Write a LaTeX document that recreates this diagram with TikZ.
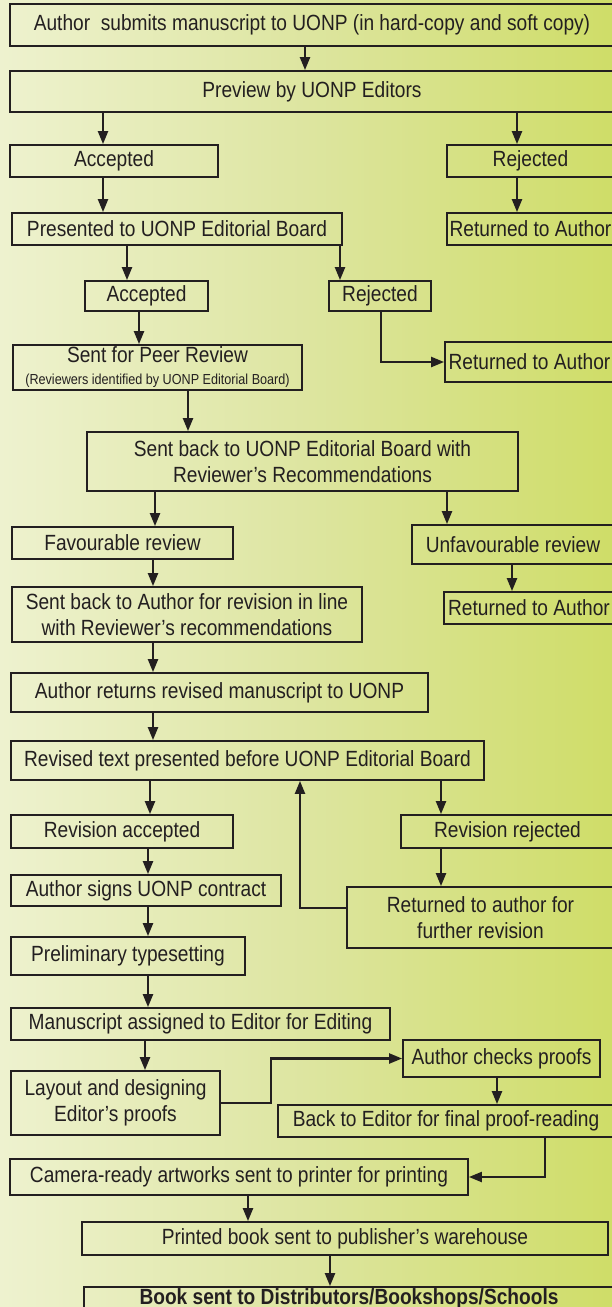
\documentclass[tikz,border=0pt]{standalone}
\usepackage{fontspec}
\setmainfont{Liberation Sans}[FakeStretch=0.87]
\usetikzlibrary{arrows.meta}

\definecolor{ink}{HTML}{231F20}
\definecolor{bgA}{HTML}{FFFFFF}
\definecolor{bgB}{HTML}{EEF2CF}
\definecolor{bgC}{HTML}{DDE5A0}
\definecolor{bgD}{HTML}{C1D530}
\pgfdeclarehorizontalshading{bgshade}{100bp}{color(0bp)=(bgA); color(2bp)=(bgA); color(25bp)=(bgB); color(50bp)=(bgC); color(100bp)=(bgD)}

\tikzset{
  box/.style={shape=rectangle, draw=ink, line width=1.8pt, inner sep=0pt, align=center,
    text=ink, font=\fontsize{22}{26}\selectfont},
  arr/.style={draw=ink, line width=2.2pt, -{Triangle[length=13pt,width=10pt]}},
}

\begin{document}
\begin{tikzpicture}[x=1pt,y=-1pt]

%page and background
\useasboundingbox (0,0) rectangle (612,1307);
\clip (0,0) rectangle (612,1307);
\shade [shading=bgshade] (0,0) rectangle (612,1307);

%submission and preview
\node [box, minimum width=604pt, minimum height=42pt] at (312,25) (submit) {Author\ \ submits manuscript to UONP (in hard-copy and soft copy)};
\node [box, minimum width=604pt, minimum height=41pt] at (312,91.5) (preview) {Preview by UONP Editors};

%first decision
\node [box, minimum width=208pt, minimum height=32pt] at (114,161) (acc1) {Accepted};
\node [box, minimum width=167pt, minimum height=32pt] at (530.5,161) (rej1) {Rejected};
\node [box, minimum width=330pt, minimum height=32pt] at (177,229) (board1) {Presented to UONP Editorial Board};
\node [box, minimum width=167pt, minimum height=32pt] at (530.5,229) (ret1) {Returned to Author};

%editorial board decision
\node [box, minimum width=123pt, minimum height=30pt] at (146.5,296) (acc2) {Accepted};
\node [box, minimum width=102pt, minimum height=30pt] at (380,296) (rej2) {Rejected};
\node [box, minimum width=169pt, minimum height=40pt] at (529.5,362) (ret2) {Returned to Author};
\node [box, minimum width=289pt, minimum height=45pt] at (157.5,367.5) (peer) {Sent for Peer Review\\[-4pt]{\fontsize{14.5}{16}\selectfont (Reviewers identified by UONP Editorial Board)}};

%review outcome
\node [box, minimum width=431pt, minimum height=59pt] at (302.5,461.5) (back1) {Sent back to UONP Editorial Board with\\Reviewer's Recommendations};
\node [box, minimum width=221pt, minimum height=32pt] at (122.5,543) (fav) {Favourable review};
\node [box, minimum width=202pt, minimum height=39pt] at (513,544.5) (unfav) {Unfavourable review};
\node [box, minimum width=350pt, minimum height=55pt] at (187,614.5) (revline) {Sent back to Author for revision in line\\with Reviewer's recommendations};
\node [box, minimum width=170pt, minimum height=32pt] at (529,608) (ret3) {Returned to Author};

%revision
\node [box, minimum width=417pt, minimum height=39pt] at (219.5,692.5) (returns) {Author returns revised manuscript to UONP};
\node [box, minimum width=473pt, minimum height=39pt] at (247.5,760.5) (revised) {Revised text presented before UONP Editorial Board};
\node [box, minimum width=222pt, minimum height=33pt] at (122,831.5) (revacc) {Revision accepted};
\node [box, minimum width=213pt, minimum height=33pt] at (507.5,831.5) (revrej) {Revision rejected};
\node [box, minimum width=270pt, minimum height=31pt] at (146,890.5) (contract) {Author signs UONP contract};
\node [box, minimum width=267pt, minimum height=61pt] at (480.5,917.5) (further) {Returned to author for\\further revision};

%production
\node [box, minimum width=234pt, minimum height=38pt] at (128,956) (prelim) {Preliminary typesetting};
\node [box, minimum width=379pt, minimum height=32pt] at (200.5,1024) (assigned) {Manuscript assigned to Editor for Editing};
\node [box, minimum width=209pt, minimum height=64pt] at (115.5,1103) (layout) {Layout and designing\\Editor's proofs};
\node [box, minimum width=197pt, minimum height=37pt] at (501.5,1058.5) (checks) {Author checks proofs};
\node [box, minimum width=336pt, minimum height=32pt] at (446,1121) (finalproof) {Back to Editor for final proof-reading};
\node [box, minimum width=458pt, minimum height=36pt] at (239,1177) (camera) {Camera-ready artworks sent to printer for printing};
\node [box, minimum width=526pt, minimum height=33pt] at (345,1238.5) (printed) {Printed book sent to publisher's warehouse};
\node [box, minimum width=530pt, minimum height=24pt] at (349,1299) (distrib) {\bfseries Book sent to Distributors/Bookshops/Schools};

%arrows down the left column
\draw [arr] (submit.south -| 305,0) -- (preview.north -| 305,0);
\draw [arr] (preview.south -| 103,0) -- (acc1.north -| 103,0);
\draw [arr] (acc1.south -| 103,0) -- (board1.north -| 103,0);
\draw [arr] (board1.south -| 127,0) -- (acc2.north -| 127,0);
\draw [arr] (acc2.south -| 139,0) -- (peer.north -| 139,0);
\draw [arr] (peer.south -| 188,0) -- (back1.north -| 188,0);
\draw [arr] (back1.south -| 155,0) -- (fav.north -| 155,0);
\draw [arr] (fav.south -| 153,0) -- (revline.north -| 153,0);
\draw [arr] (revline.south -| 153,0) -- (returns.north -| 153,0);
\draw [arr] (returns.south -| 153,0) -- (revised.north -| 153,0);
\draw [arr] (revised.south -| 150,0) -- (revacc.north -| 150,0);
\draw [arr] (revacc.south -| 148,0) -- (contract.north -| 148,0);
\draw [arr] (contract.south -| 148,0) -- (prelim.north -| 148,0);
\draw [arr] (prelim.south -| 148,0) -- (assigned.north -| 148,0);
\draw [arr] (assigned.south -| 145,0) -- (layout.north -| 145,0);
\draw [arr] (camera.south -| 248,0) -- (printed.north -| 248,0);
\draw [arr] (printed.south -| 330,0) -- (distrib.north -| 330,0);

%arrows down the right column
\draw [arr] (preview.south -| 517,0) -- (rej1.north -| 517,0);
\draw [arr] (rej1.south -| 517,0) -- (ret1.north -| 517,0);
\draw [arr] (board1.south -| 340,0) -- (rej2.north -| 340,0);
\draw [arr] (back1.south -| 447,0) -- (unfav.north -| 447,0);
\draw [arr] (unfav.south -| 512,0) -- (ret3.north -| 512,0);
\draw [arr] (revised.south -| 441,0) -- (revrej.north -| 441,0);
\draw [arr] (revrej.south -| 441,0) -- (further.north -| 441,0);
\draw [arr] (checks.south -| 497,0) -- (finalproof.north -| 497,0);

%elbow connectors
\draw [arr] (rej2.south -| 381,0) |- (ret2.west);
\draw [arr] (further.west |- 0,908) -| (revised.south -| 300,0);
\draw [arr] (layout.east) -- (layout.east -| 271,0) |- (checks.west);
\draw [arr] (finalproof.south -| 545,0) |- (camera.east);

\end{tikzpicture}
\end{document}
